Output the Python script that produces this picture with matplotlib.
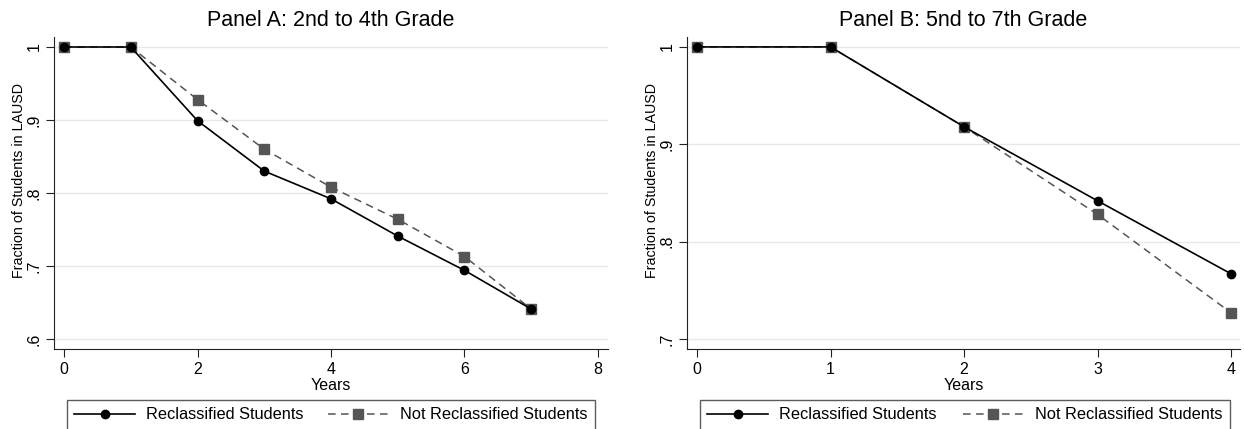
import matplotlib.pyplot as plt
import numpy as np

plt.rcParams['font.family'] = ['Liberation Sans', 'DejaVu Sans']

# survival in district, by years since baseline
years_a = [0, 1, 2, 3, 4, 5, 6, 7]
reclass_a = [1.0, 1.0, 0.899, 0.830, 0.792, 0.741, 0.694, 0.641]
notreclass_a = [1.0, 1.0, 0.928, 0.860, 0.808, 0.764, 0.713, 0.641]

years_b = [0, 1, 2, 3, 4]
reclass_b = [1.0, 1.0, 0.918, 0.842, 0.767]
notreclass_b = [1.0, 1.0, 0.918, 0.828, 0.727]

W, H = 1244, 429
fig = plt.figure(figsize=(W/100, H/100), dpi=100)
axA = fig.add_axes([54/W, 1-349/H, (608-54)/W, (349-37)/H])
axB = fig.add_axes([687/W, 1-349/H, (1240-687)/W, (349-37)/H])

def panel(ax, x, r, n, title, xticks, yticks, ylabs, xlim, ylim):
    ax.plot(x, n, color='#555555', ls=(0, (5, 3.5)), lw=1.1, marker='s', ms=6.5,
            label='Not Reclassified Students', zorder=3)
    ax.plot(x, r, color='black', lw=1.2, marker='o', ms=6,
            label='Reclassified Students', zorder=4)
    ax.set_title(title, fontsize=15.5, pad=8)
    ax.set_xticks(xticks)
    ax.set_yticks(yticks)
    ax.set_yticklabels(ylabs, rotation=90, va='center')
    ax.set_xlim(xlim)
    ax.set_ylim(ylim)
    ax.grid(axis='y', color='#e8e8e8', lw=1)
    ax.set_axisbelow(True)
    for s in ['top', 'right']:
        ax.spines[s].set_visible(False)
    for s in ['left', 'bottom']:
        ax.spines[s].set_color('#222222')
    ax.tick_params(labelsize=11.5, length=6, color='#222222', pad=3)
    ax.set_xlabel('Years', fontsize=11.5, labelpad=1)
    ax.set_ylabel('Fraction of Students in LAUSD', fontsize=10.3)
    ax.yaxis.set_label_coords(-0.051, 0.54)

panel(axA, years_a, reclass_a, notreclass_a, 'Panel A: 2nd to 4th Grade',
      [0, 2, 4, 6, 8], [0.6, 0.7, 0.8, 0.9, 1.0], ['.6', '.7', '.8', '.9', '1'],
      (-0.15, 8.15), (0.5863, 1.0137))
panel(axB, years_b, reclass_b, notreclass_b, 'Panel B: 5nd to 7th Grade',
      [0, 1, 2, 3, 4], [0.7, 0.8, 0.9, 1.0], ['.7', '.8', '.9', '1'],
      (-0.075, 4.067), (0.6898, 1.0102))

for ax, x0, x1 in [(axA, 67, 595), (axB, 700, 1230)]:
    h, l = ax.get_legend_handles_labels()
    fig.legend(h[::-1], l[::-1], loc='upper left', mode='expand', ncol=2,
               bbox_to_anchor=(x0/W, (H-400)/H, (x1-x0)/W, 0),
               fontsize=11.8, frameon=True, fancybox=False, edgecolor='#333333',
               handlelength=3.7, handletextpad=0.7, borderpad=0.45,
               borderaxespad=0, columnspacing=2.0)

fig.savefig('out.png', dpi=100)
